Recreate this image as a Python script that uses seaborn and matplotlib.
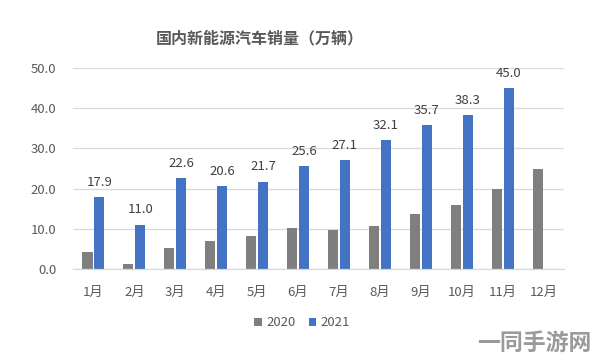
import numpy as np
import pandas as pd
import matplotlib
matplotlib.use("Agg")
import matplotlib.pyplot as plt
import seaborn as sns

months = ["1月", "2月", "3月", "4月", "5月", "6月", "7月", "8月", "9月", "10月", "11月", "12月"]
sales_2020 = [4.3, 1.2, 5.1, 7.0, 8.1, 10.2, 9.7, 10.8, 13.8, 15.8, 19.8, 24.8]
sales_2021 = [17.9, 11.0, 22.6, 20.6, 21.7, 25.6, 27.1, 32.1, 35.7, 38.3, 45.0, np.nan]
series_names = ["2020", "2021"]
y_ticks = [0, 10, 20, 30, 40, 50]
title = "国内新能源汽车销量（万辆）"
watermark = "一同手游网"

df = pd.DataFrame({
    "month": months * 2,
    "value": sales_2020 + sales_2021,
    "year": [series_names[0]] * len(months) + [series_names[1]] * len(months),
}).dropna()

sns.set_theme(style="white")
plt.rcParams["font.family"] = ["Noto Sans CJK SC", "DejaVu Sans"]

fig = plt.figure(figsize=(5.94, 3.64), dpi=100)
ax = fig.add_axes([73 / 594, 1 - 269 / 364, (564 - 73) / 594, (269 - 68) / 364])

palette = {"2020": "#7f7f7f", "2021": "#4472c4"}
sns.barplot(data=df, x="month", y="value", hue="year", order=months,
            hue_order=series_names, palette=palette, width=0.58, gap=0.15,
            saturation=1, linewidth=0, ax=ax, legend=True)

ax.set_ylim(0, 50)
ax.set_yticks(y_ticks)
ax.set_yticklabels([f"{v:.1f}" for v in y_ticks])
ax.set_xlim(-0.5, len(months) - 0.5)
ax.set_xlabel("")
ax.set_ylabel("")
ax.grid(axis="y", color="#d9d9d9", linewidth=0.9)
ax.set_axisbelow(True)
for s in ["top", "right", "left"]:
    ax.spines[s].set_visible(False)
ax.spines["bottom"].set_color("#d9d9d9")
ax.spines["bottom"].set_linewidth(0.9)
ax.tick_params(axis="both", length=0, labelsize=9.5, colors="#595959")
ax.tick_params(axis="y", pad=12)
ax.tick_params(axis="x", pad=12)

cont = ax.containers[1]
for b in cont.patches:
    if b is None:
        continue
    h = b.get_height()
    if np.isnan(h):
        continue
    ax.annotate(f"{h:.1f}", (b.get_x() + b.get_width() / 2, h),
                xytext=(0, 6), textcoords="offset points",
                ha="center", va="bottom", fontsize=9.5, color="#404040")

leg = ax.legend(loc="center", bbox_to_anchor=(302 / 594, 1 - 323 / 364),
                bbox_transform=fig.transFigure, ncol=2, frameon=False,
                handlelength=0.6, handleheight=0.6, handletextpad=0.3,
                columnspacing=1.0, fontsize=9.5)
for t in leg.get_texts():
    t.set_color("#595959")

fig.text(260 / 594, 1 - 38 / 364, title, ha="center", va="center",
         fontsize=11.5, fontweight="bold", color="#595959")
fig.text(591 / 594, 1 - 343 / 364, watermark, ha="right", va="center",
         fontsize=16.5, fontweight="bold", color="#9a9a9a")

fig.savefig("out.png", dpi=100)
